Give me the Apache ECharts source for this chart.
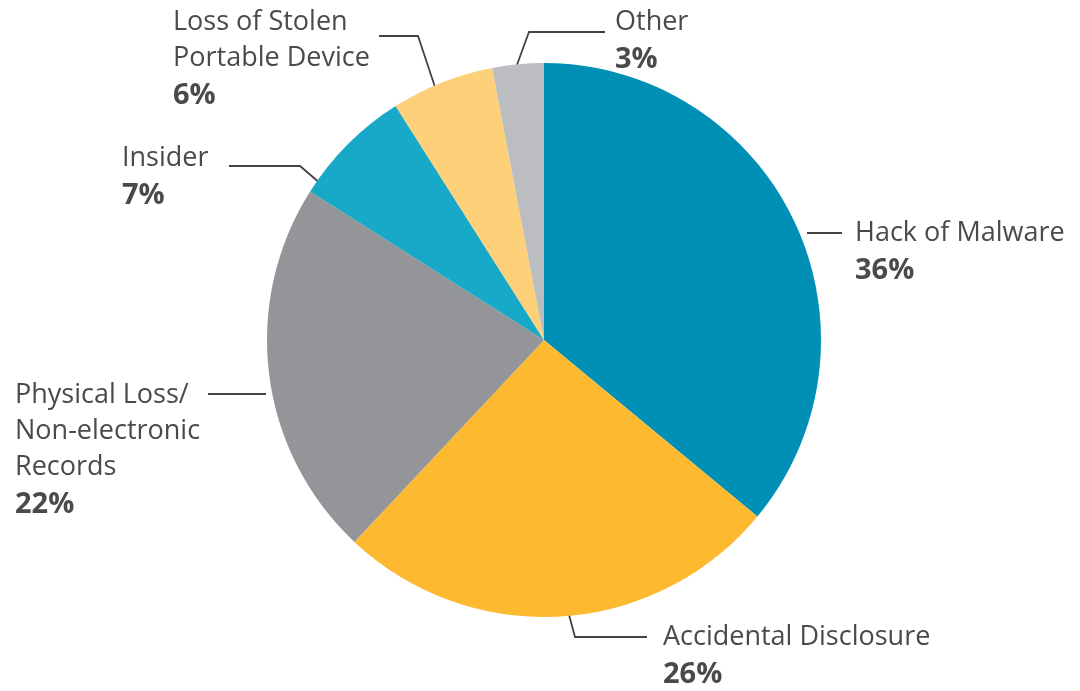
<!DOCTYPE html>
<html>
<head>
<meta charset="utf-8">
<script src="https://cdn.jsdelivr.net/npm/echarts@6/dist/echarts.min.js"></script>
<style>html,body{margin:0;padding:0;background:#fff;}#c{width:1080px;height:691px;}</style>
</head>
<body>
<div id="c"></div>
<script>
var categories = ['Hack of Malware', 'Accidental Disclosure', 'Physical Loss/\nNon-electronic\nRecords', 'Insider', 'Loss of Stolen\nPortable Device', 'Other'];
var values = [36, 26, 22, 7, 6, 3];
var colors = ['#008FB5', '#FDBA31', '#939598', '#18A8C8', '#FED07A', '#BBBDC0'];

// label placement (annotation layout)
var labelPos = [
  {x: 855, y: 215, line: [[807,233],[825,233],[842,233]]},
  {x: 663, y: 619, line: [[568,611],[575,637],[647,637]]},
  {x: 15,  y: 377, line: [[266,394],[240,394],[208,394]]},
  {x: 122, y: 140, line: [[321,184],[300,166],[229,166]]},
  {x: 173, y: 4,   line: [[437,93],[418,36],[379,36]]},
  {x: 615, y: 4,   line: [[514,73],[529,32],[605,32]]}
];

var chart = echarts.init(document.getElementById('c'), null, {renderer: 'canvas'});
chart.setOption({
  animation: false,
  backgroundColor: '#fff',
  series: [{
    type: 'pie',
    center: [544, 340],
    radius: [0, 277],
    startAngle: 90,
    clockwise: true,
    silent: true,
    data: categories.map(function (n, i) {
      return {name: n, value: values[i], itemStyle: {color: colors[i]}};
    }),
    label: {
      show: true,
      formatter: function (p) {
        var lines = p.name.split('\n').map(function (l) { return '{n|' + l + '}'; });
        return lines.join('\n') + '\n{p|' + p.value + '%}';
      },
      rich: {
        n: {fontFamily: 'Open Sans', fontSize: 27, color: '#4a4a4d', lineHeight: 36},
        p: {fontFamily: 'Open Sans', fontSize: 29, fontWeight: 'bold', color: '#4a4a4d', lineHeight: 39}
      }
    },
    labelLine: {show: true, lineStyle: {color: '#444', width: 1.8}},
    labelLayout: function (params) {
      var lp = labelPos[params.dataIndex];
      return {x: lp.x, y: lp.y, align: 'left', verticalAlign: 'top', labelLinePoints: lp.line};
    }
  }]
});
</script>
</body>
</html>
